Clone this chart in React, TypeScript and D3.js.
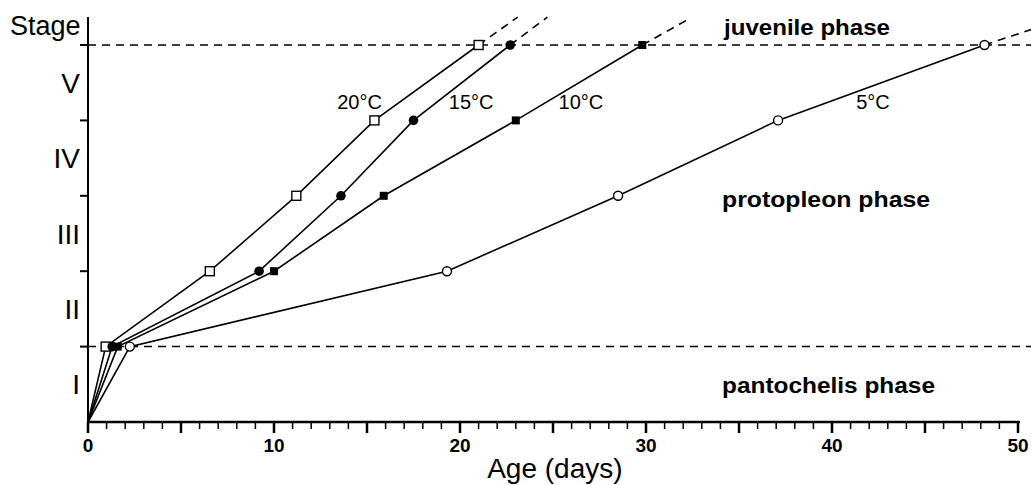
import React from "react";
import * as d3 from "d3";

// stages reached (0 = hatch) and the age in days at each moult
const stages = [0, 1, 2, 3, 4, 5];
const days20 = [0, 0.95, 6.55, 11.2, 15.4, 21.0];
const days15 = [0, 1.3, 9.2, 13.6, 17.5, 22.7];
const days10 = [0, 1.6, 10.0, 15.9, 23.0, 29.8];
const days5 = [0, 2.25, 19.3, 28.5, 37.1, 48.2];

// dashed continuation beyond stage V: [day, stage]
const ext20 = [23.1, 5.37];
const ext15 = [24.7, 5.37];
const ext10 = [32.2, 5.33];
const ext5 = [50.9, 5.22];

const romanLabels = ["I", "II", "III", "IV", "V"];
const xLabels = [0, 10, 20, 30, 40, 50];

const series = [
  { name: "20°C", days: days20, ext: ext20, marker: "openSquare", label: [14.6, 4.15] },
  { name: "15°C", days: days15, ext: ext15, marker: "dot", label: [20.6, 4.15] },
  { name: "10°C", days: days10, ext: ext10, marker: "square", label: [26.5, 4.15] },
  { name: "5°C", days: days5, ext: ext5, marker: "openDot", label: [42.2, 4.15] },
];

const W = 1031;
const H = 485;
const font = "'Liberation Sans', Arial, sans-serif";

const App = () => {
  const x = d3.scaleLinear().domain([0, 50]).range([88, 1018]);
  const y = d3.scaleLinear().domain([0, 5]).range([422, 45]);
  const line = d3
    .line<[number, number]>()
    .x((d) => x(d[0]))
    .y((d) => y(d[1]));

  const marker = (kind: string, cx: number, cy: number, key: number) => {
    if (kind === "openSquare")
      return <rect key={key} x={cx - 4.5} y={cy - 4.5} width={9} height={9} fill="#fff" stroke="#000" strokeWidth={1.4} />;
    if (kind === "square")
      return <rect key={key} x={cx - 4} y={cy - 4} width={8} height={8} fill="#000" />;
    if (kind === "dot") return <circle key={key} cx={cx} cy={cy} r={4.8} fill="#000" />;
    return <circle key={key} cx={cx} cy={cy} r={4.5} fill="#fff" stroke="#000" strokeWidth={1.4} />;
  };

  const minor = d3.range(0, 51, 1);

  return (
    <svg width={W} height={H} style={{ position: "absolute", left: 0, top: 0, background: "#fff" }}>
      {/* phase boundaries */}
      {[1, 5].map((s) => (
        <line key={s} x1={x(0)} x2={W} y1={y(s)} y2={y(s)} stroke="#000" strokeWidth={1.5} strokeDasharray="8,6" />
      ))}

      {/* axes */}
      <line x1={x(0)} x2={x(0)} y1={17} y2={y(0)} stroke="#000" strokeWidth={2} />
      <line x1={x(0)} x2={1020} y1={y(0)} y2={y(0)} stroke="#000" strokeWidth={2.5} />
      {minor.map((d) => (
        <line
          key={d}
          x1={x(d)}
          x2={x(d)}
          y1={y(0)}
          y2={y(0) + (d % 5 === 0 ? 11 : 7)}
          stroke="#000"
          strokeWidth={d % 5 === 0 ? 2.5 : 1.5}
        />
      ))}
      {xLabels.map((d) => (
        <text key={d} x={x(d)} y={452} textAnchor="middle" fontFamily={font} fontSize={19} fontWeight="bold">
          {d}
        </text>
      ))}
      <text x={x(25.1)} y={478} textAnchor="middle" fontFamily={font} fontSize={28}>
        Age (days)
      </text>

      {stages.slice(1).map((s) => (
        <line key={s} x1={80} x2={x(0)} y1={y(s)} y2={y(s)} stroke="#000" strokeWidth={2} />
      ))}
      {romanLabels.map((r, i) => (
        <text key={r} x={80} y={y(i + 0.5) + 10} textAnchor="end" fontFamily={font} fontSize={28}>
          {r}
        </text>
      ))}
      <text x={10} y={35} fontFamily={font} fontSize={27}>
        Stage
      </text>

      {/* growth curves */}
      {series.map((s) => {
        const pts = s.days.map((d, i) => [d, stages[i]] as [number, number]);
        const last = pts[pts.length - 1];
        return (
          <g key={s.name}>
            <path d={line(pts) || ""} fill="none" stroke="#000" strokeWidth={1.6} />
            <path
              d={line([last, s.ext as [number, number]]) || ""}
              fill="none"
              stroke="#000"
              strokeWidth={1.6}
              strokeDasharray="8,6"
            />
            {pts.slice(1).map((p, i) => marker(s.marker, x(p[0]), y(p[1]), i))}
            <text x={x(s.label[0])} y={y(s.label[1])} textAnchor="middle" fontFamily={font} fontSize={20}>
              {s.name}
            </text>
          </g>
        );
      })}

      {/* phase names */}
      <text x={724} y={35} fontFamily={font} fontSize={22} fontWeight="bold" textLength={166} lengthAdjust="spacingAndGlyphs">
        juvenile phase
      </text>
      <text x={722} y={207} fontFamily={font} fontSize={22} fontWeight="bold" textLength={208} lengthAdjust="spacingAndGlyphs">
        protopleon phase
      </text>
      <text x={722} y={393} fontFamily={font} fontSize={22} fontWeight="bold" textLength={213} lengthAdjust="spacingAndGlyphs">
        pantochelis phase
      </text>
    </svg>
  );
};

export default App;
